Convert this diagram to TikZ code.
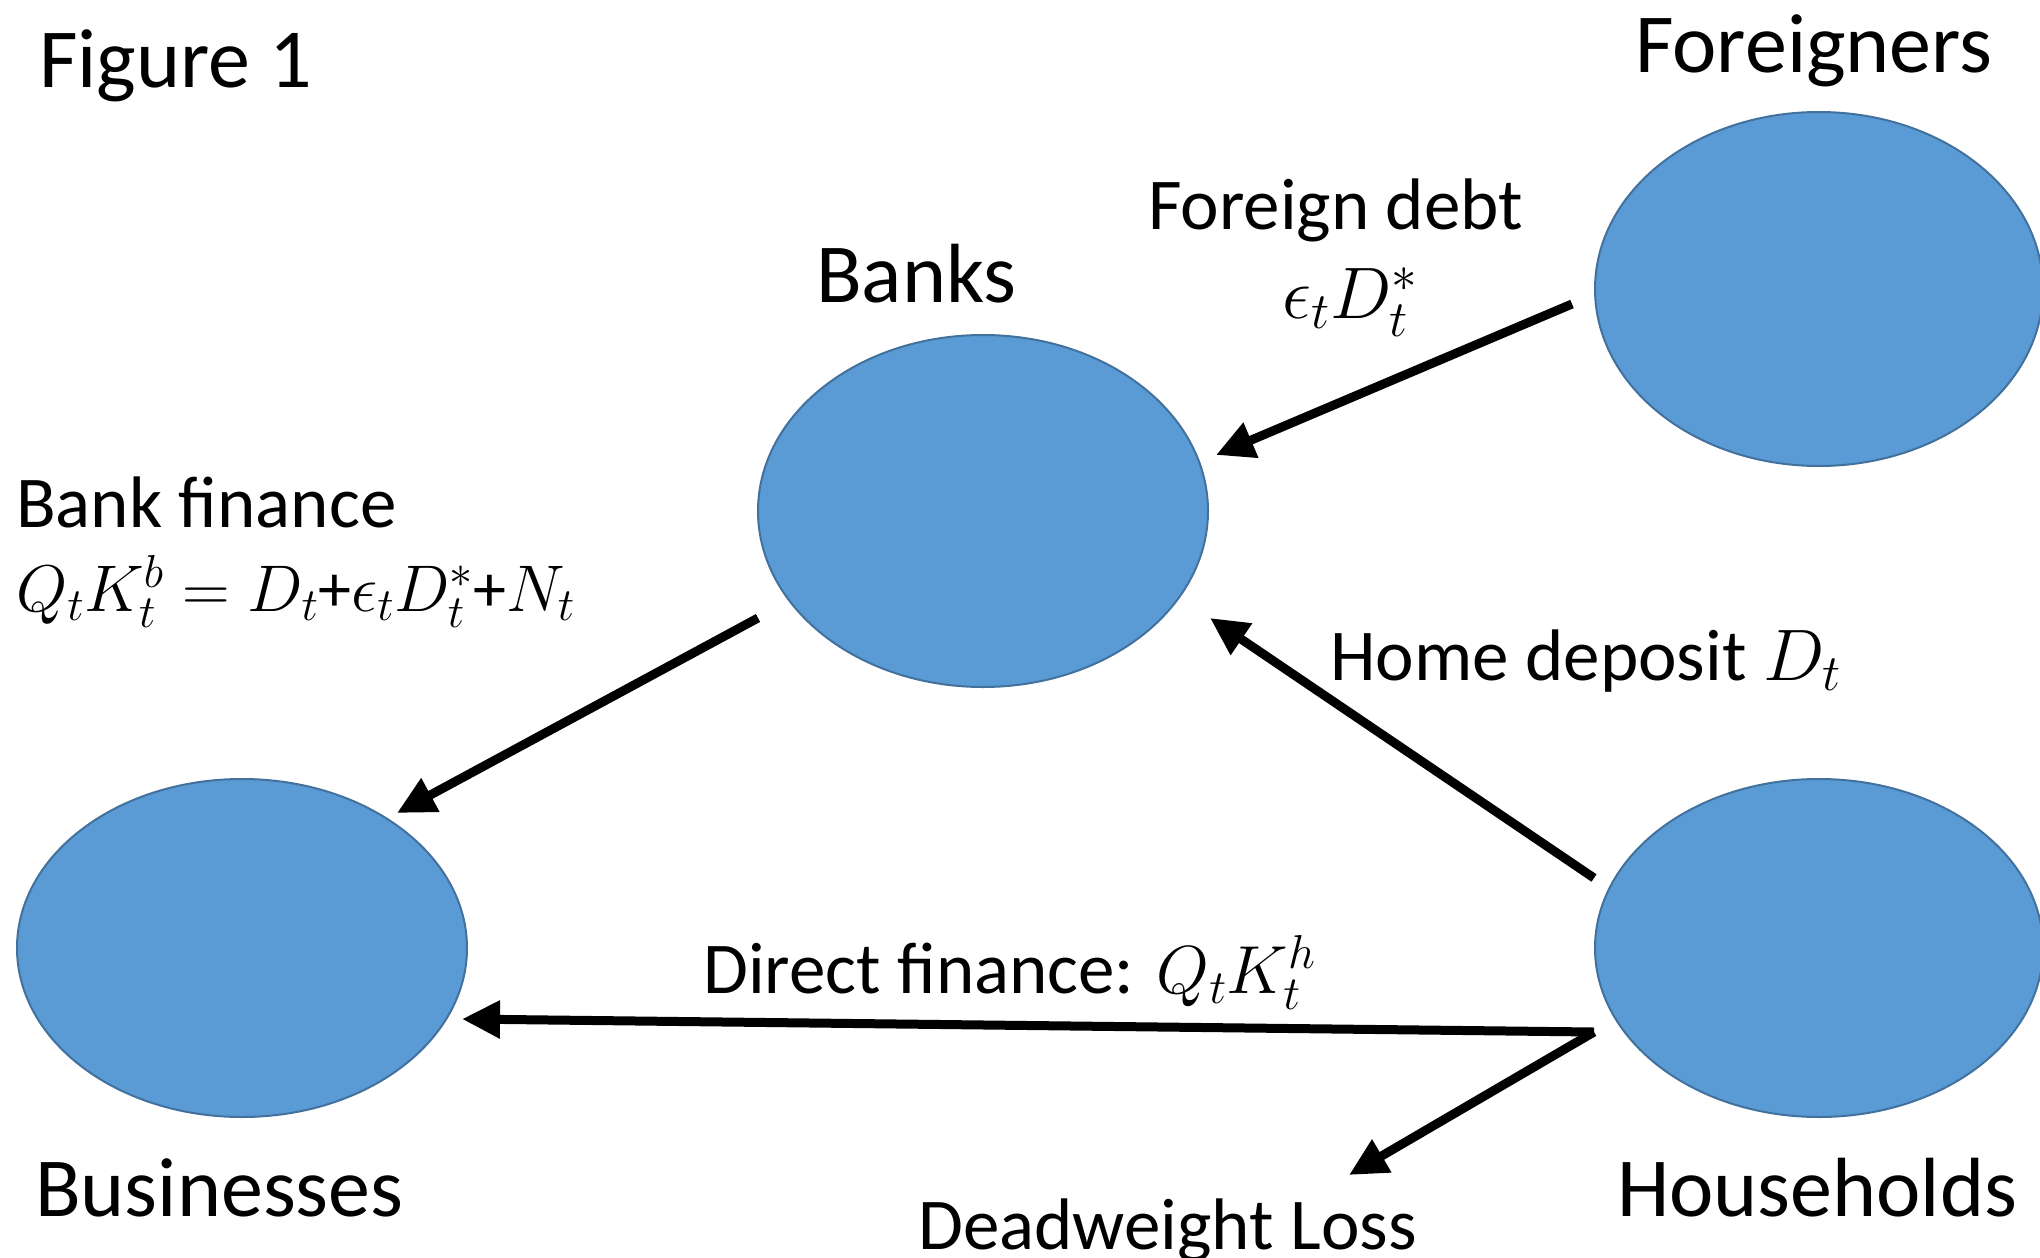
\RequirePackage{fix-cm}
\documentclass[tikz,border=0pt]{standalone}
\usepackage{fontspec}
\setmainfont{Carlito}
\usetikzlibrary{shapes.geometric,arrows.meta}
\definecolor{bluefill}{HTML}{5B9BD5}
\definecolor{blueedge}{HTML}{41719C}
\begin{document}
\begin{tikzpicture}[x=1pt,y=-1pt,
  blob/.style={ellipse,fill=bluefill,draw=blueedge,line width=2pt,inner sep=0pt},
  big/.style={font=\fontsize{84}{100}\selectfont,inner sep=0pt},
  lab/.style={font=\fontsize{73}{88}\selectfont,inner sep=0pt},
  labm/.style={font=\fontsize{66}{80}\selectfont,inner sep=0pt},
  flow/.style={line width=9pt,-{Triangle[length=38pt,width=36pt]}}]
\useasboundingbox (0,0) rectangle (2040,1258);
% ellipses
\node[blob,minimum width=450pt,minimum height=352pt] (banks) at (983,511) {};
\node[blob,minimum width=448pt,minimum height=354pt] (foreigners) at (1819,289) {};
\node[blob,minimum width=450pt,minimum height=338pt] (businesses) at (242,948) {};
\node[blob,minimum width=448pt,minimum height=338pt] (households) at (1819,948) {};
% titles
\node[big,anchor=base west] (fig) at (39,87) {Figure 1};
\node[big,anchor=base west] (tforeign) at (1635,72) {Foreigners};
\node[big,anchor=base west] (tbanks) at (816,302) {Banks};
\node[big,anchor=base west] (tbus) at (35,1216) {Businesses};
\node[big,anchor=base west] (thouse) at (1617,1216) {Households};
% labels
\node[lab,anchor=base west] (lfd) at (1148,229) {Foreign debt};
\node[lab,anchor=base] (lfdm) at (1350,318) {$\epsilon_t D_t^*$};
\node[lab,anchor=base west] (lbf) at (16,527) {Bank finance};
\node[labm,anchor=base west] (lbfm) at (16,611) {$Q_tK_t^b = D_t$+$\epsilon_tD_t^*$+$N_t$};
\node[lab,anchor=base west] (lhd) at (1330,680) {Home deposit $D_t$};
\node[lab,anchor=base west] (ldf) at (703,993) {Direct finance: {\fontsize{68}{80}\selectfont$Q_tK_t^h$}};
\node[lab,anchor=base west] (ldw) at (918,1249) {Deadweight Loss};
% connector ends
\coordinate (fdS) at (1572,304);
\coordinate (fdE) at (1216,455);
\coordinate (bfS) at (758,618);
\coordinate (bfE) at (397,813);
\coordinate (hdS) at (1594,878);
\coordinate (hdE) at (1210,618);
\coordinate (dfS) at (1594,1032);
\coordinate (dfE) at (462,1019);
\coordinate (dwE) at (1349,1175);
% arrows
\draw[flow] (fdS) -- (fdE);
\draw[flow] (bfS) -- (bfE);
\draw[flow] (hdS) -- (hdE);
\draw[flow] (dfS) -- (dfE);
\draw[flow] (dfS) -- (dwE);
\end{tikzpicture}
\end{document}
